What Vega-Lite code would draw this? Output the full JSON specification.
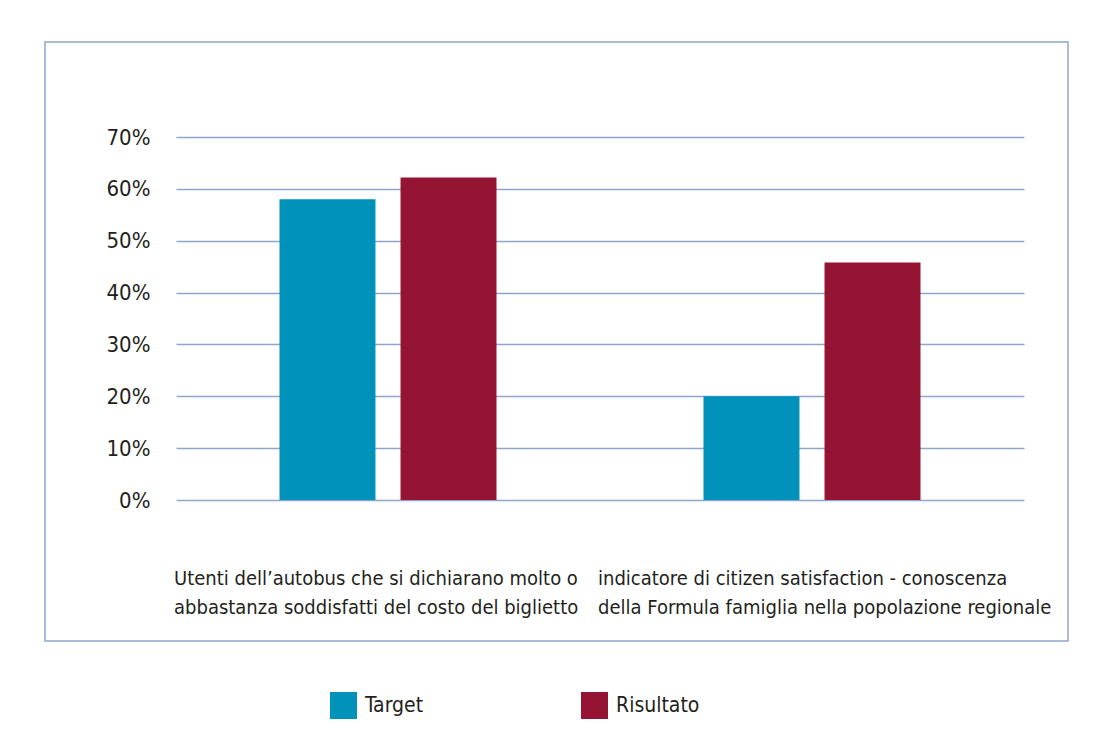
{
  "$schema": "https://vega.github.io/schema/vega-lite/v6.json",
  "autosize": {"type": "none"},
  "width": 1023,
  "height": 599,
  "padding": {"left": 45, "top": 42, "right": 40, "bottom": 97},
  "background": "white",
  "config": {
    "font": "Liberation Sans Narrow, DejaVu Sans Condensed, sans-serif",
    "view": {"stroke": "#8FA6CB", "strokeWidth": 1.5}
  },
  "data": {
    "values": [
      {"indicatore": "Utenti dell’autobus che si dichiarano molto o abbastanza soddisfatti del costo del biglietto", "serie": "Target", "valore": 0.58},
      {"indicatore": "Utenti dell’autobus che si dichiarano molto o abbastanza soddisfatti del costo del biglietto", "serie": "Risultato", "valore": 0.622},
      {"indicatore": "indicatore di citizen satisfaction - conoscenza della Formula famiglia nella popolazione regionale", "serie": "Target", "valore": 0.20},
      {"indicatore": "indicatore di citizen satisfaction - conoscenza della Formula famiglia nella popolazione regionale", "serie": "Risultato", "valore": 0.458}
    ]
  },
  "mark": {"type": "bar"},
  "encoding": {
    "x": {
      "field": "indicatore",
      "type": "nominal",
      "sort": null,
      "title": null,
      "scale": {"range": [131, 979], "paddingInner": 0, "paddingOuter": 0},
      "axis": {
        "orient": "bottom",
        "offset": -73,
        "domain": false,
        "ticks": false,
        "grid": false,
        "labelAngle": 0,
        "labelAlign": "left",
        "labelBaseline": "top",
        "labelOffset": -214,
        "labelPadding": 0,
        "labelFontSize": 20,
        "labelLineHeight": 29,
        "labelColor": "#231F20",
        "labelLimit": 600,
        "labelExpr": "indexof(datum.value, 'Utenti') == 0 ? ['Utenti dell’autobus che si dichiarano molto o', 'abbastanza soddisfatti del costo del biglietto'] : ['indicatore di citizen satisfaction - conoscenza', 'della Formula famiglia nella popolazione regionale']"
      }
    },
    "xOffset": {
      "field": "serie",
      "type": "nominal",
      "sort": ["Target", "Risultato"],
      "scale": {"paddingInner": 0.207, "paddingOuter": 0.855}
    },
    "y": {
      "field": "valore",
      "type": "quantitative",
      "title": null,
      "scale": {"domain": [-0.2719, 0.8832], "nice": false, "zero": false},
      "axis": {
        "values": [0, 0.1, 0.2, 0.3, 0.4, 0.5, 0.6, 0.7],
        "format": ".0%",
        "offset": -105,
        "domain": false,
        "ticks": false,
        "labelPadding": 0,
        "labelFontSize": 22,
        "labelColor": "#231F20",
        "grid": true,
        "gridColor": "#8FA6CB",
        "gridWidth": 1.3
      }
    },
    "color": {
      "field": "serie",
      "type": "nominal",
      "sort": ["Target", "Risultato"],
      "scale": {"domain": ["Target", "Risultato"], "range": ["#0092BA", "#961433"]},
      "legend": {
        "title": null,
        "orient": "none",
        "legendX": 285,
        "legendY": 650,
        "direction": "horizontal",
        "padding": 0,
        "symbolType": "square",
        "symbolSize": 729,
        "symbolStrokeWidth": 0,
        "symbolOpacity": 1,
        "labelFontSize": 21,
        "labelColor": "#231F20",
        "labelOffset": 8,
        "columnPadding": 157
      }
    }
  }
}
